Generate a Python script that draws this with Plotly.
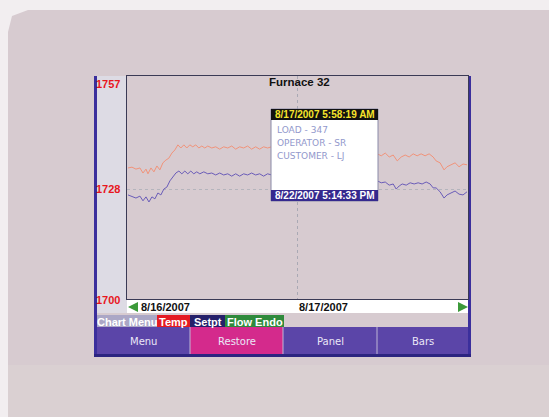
import plotly.graph_objects as go
import pandas as pd

W, H = 549, 417

# ---------------- data ----------------
title_text = "Furnace 32"

temp_hours = [0.14, 0.70, 1.26, 1.82, 2.25, 2.67, 2.95, 3.37, 3.79, 4.21, 4.63, 5.05, 5.47, 5.89,
              6.32, 6.74, 7.16, 7.58, 8.00, 8.42, 8.84, 9.26, 9.68, 10.11, 10.53, 10.95, 11.37,
              11.93, 12.49, 13.05, 13.61, 14.18, 14.74, 15.30, 15.86, 16.42, 16.98, 17.54, 18.11,
              18.67, 19.23, 19.79, 20.35,
              35.23, 35.79, 36.35, 36.91, 37.47, 38.04, 38.60, 39.16, 39.72, 40.28, 40.84, 41.40,
              41.96, 42.53, 43.09, 43.51, 44.07, 44.63, 45.05, 45.61, 46.18, 46.74, 47.30, 47.86]
temp_values = [1733.5, 1733.7, 1733.2, 1733.5, 1732.2, 1733.2, 1732.0, 1733.5, 1732.5, 1734.0,
               1733.0, 1734.8, 1735.5, 1736.0, 1737.3, 1738.1, 1739.4, 1738.6, 1739.4, 1738.6,
               1739.4, 1738.9, 1739.4, 1738.6, 1739.1, 1738.6, 1739.1, 1738.6, 1738.9, 1738.3,
               1738.9, 1738.6, 1739.1, 1738.3, 1738.9, 1738.6, 1739.1, 1738.3, 1738.9, 1738.3,
               1738.9, 1738.6, 1738.9,
               1737.1, 1736.6, 1737.3, 1736.3, 1736.8, 1735.3, 1736.3, 1736.8, 1736.3, 1737.1,
               1736.6, 1737.1, 1736.6, 1737.1, 1736.3, 1735.3, 1734.8, 1733.0, 1733.8, 1734.3,
               1734.8, 1733.8, 1734.5, 1734.3]

setpt_hours = [0.14, 0.70, 1.26, 1.82, 2.25, 2.67, 3.09, 3.51, 3.93, 4.35, 4.77, 5.19, 5.61, 6.04,
               6.46, 6.88, 7.30, 7.72, 8.14, 8.56, 8.98, 9.40, 9.82, 10.25, 10.81, 11.37, 11.93,
               12.49, 13.05, 13.61, 14.18, 14.74, 15.30, 15.86, 16.42, 16.98, 17.54, 18.11, 18.67,
               19.23, 19.79, 20.35,
               35.23, 35.79, 36.35, 36.91, 37.47, 37.89, 38.32, 38.74, 39.30, 39.86, 40.42, 40.98,
               41.54, 42.11, 42.67, 43.09, 43.51, 44.07, 44.63, 45.05, 45.61, 46.18, 46.74, 47.30,
               47.86]
setpt_values = [1726.6, 1726.3, 1725.8, 1726.3, 1725.1, 1726.1, 1724.8, 1726.1, 1725.6, 1727.1,
                1726.6, 1728.1, 1728.6, 1730.2, 1731.2, 1732.2, 1732.7, 1732.0, 1732.7, 1732.0,
                1732.7, 1732.0, 1732.5, 1732.0, 1732.5, 1732.0, 1732.2, 1731.7, 1732.2, 1731.7,
                1732.0, 1731.4, 1732.0, 1731.4, 1732.0, 1731.7, 1732.2, 1731.7, 1732.0, 1731.4,
                1732.0, 1731.7,
                1730.2, 1729.7, 1729.9, 1729.1, 1729.4, 1728.1, 1728.9, 1729.4, 1729.1, 1729.7,
                1729.4, 1729.7, 1729.4, 1729.9, 1729.4, 1728.4, 1728.4, 1727.4, 1725.8, 1726.6,
                1727.1, 1727.6, 1726.8, 1726.6, 1727.4]

y_range = [1700, 1757]
y_tick_values = [1757, 1728, 1700]
y_tick_labels = ["1757", "1728", "1700"]

x_start = "2007-08-16"
x_end = "2007-08-18"
date_ticks = ["2007-08-16", "2007-08-17"]
date_labels = ["8/16/2007", "8/17/2007"]

legend_items = ["Chart Menu", "Temp", "Setpt", "Flow Endo"]
button_labels = ["Menu", "Restore", "Panel", "Bars"]

note_start = "8/17/2007 5:58:19 AM"
note_end = "8/22/2007 5:14:33 PM"
note_lines = ["LOAD - 347", "OPERATOR - SR", "CUSTOMER - LJ"]

# ---------------- helpers (pixel -> paper) ----------------
def fx(p):
    return p / W

def fy(p):
    return 1 - p / H

shapes = []
annotations = []

def rect(x0, y0, x1, y1, fill, line_color=None, line_width=0, layer="below"):
    shapes.append(dict(type="rect", xref="paper", yref="paper",
                       x0=fx(x0), x1=fx(x1), y0=fy(y1), y1=fy(y0),
                       fillcolor=fill, layer=layer,
                       line=dict(color=line_color or fill, width=line_width)))

def path(points, fill, layer="below"):
    d = "M " + " L ".join(f"{fx(a):.5f},{fy(b):.5f}" for a, b in points) + " Z"
    shapes.append(dict(type="path", xref="paper", yref="paper", path=d,
                       fillcolor=fill, line=dict(width=0), layer=layer))

def text(x, y, s, color, size, bold=False, xanchor="center", family="Liberation Sans, Arial"):
    annotations.append(dict(xref="paper", yref="paper", x=fx(x), y=fy(y), text=f"<b>{s}</b>" if bold else s,
                            showarrow=False, xanchor=xanchor, yanchor="middle",
                            font=dict(color=color, size=size, family=family)))

# ---------------- bezel ----------------
path([(8, 32), (12, 16), (28, 10), (549, 10), (549, 417), (8, 417)], "#d7cbd0")
rect(8, 365, 549, 417, "#dad0d2")

# ---------------- screen frame ----------------
rect(94, 76, 97, 357, "#3b2f9c")
rect(468, 76, 471, 357, "#3b2f9c")
rect(97, 76, 127, 313, "#dddbe4")
rect(127, 300, 468, 313, "#ffffff")

# green scroll triangles
path([(128, 307), (138, 302), (138, 312)], "#3c9a3a")
path([(468, 307), (458, 302), (458, 312)], "#3c9a3a")

# legend row
legend_cells = [(97, 157, "#aba7c6"), (157, 190, "#e41b23"), (190, 225, "#25206a"), (225, 284, "#2f8a3c")]
for (x0, x1, c), lab in zip(legend_cells, legend_items):
    rect(x0, 315, x1, 327, c)
    text((x0 + x1) / 2, 321.5, lab, "#ffffff", 11, bold=True)

# button row
button_cells = [(97, 190, "#5b45a8"), (190, 283, "#d42a8c"), (283, 377, "#5b45a8"), (377, 468, "#5b45a8")]
for (x0, x1, c), lab in zip(button_cells, button_labels):
    rect(x0, 327, x1, 354, c)
    text((x0 + x1) / 2, 341, lab, "#ebe7f7", 10, family="DejaVu Sans, Verdana")
for xs in (190, 283, 377):
    rect(xs - 0.5, 327, xs + 0.5, 354, "#bdb5d6")
rect(94, 354, 471, 357, "#2c2480")

# y labels (placed at axis values, clamped at the edges like the display does)
y_anchor = {1757: "top", 1728: "middle", 1700: "middle"}
for v, lab in zip(y_tick_values, y_tick_labels):
    annotations.append(dict(xref="paper", yref="y", x=fx(122), y=v, text=f"<b>{lab}</b>",
                            showarrow=False, xanchor="right", yanchor=y_anchor[v],
                            yshift=(0 if v != 1700 else -1),
                            font=dict(color="#e8161e", size=11, family="Liberation Sans, Arial")))

# date labels
for i, (d, lab) in enumerate(zip(date_ticks, date_labels)):
    annotations.append(dict(xref="x", yref="paper", x=d, y=fy(307), text=f"<b>{lab}</b>",
                            showarrow=False, xanchor="left", yanchor="middle",
                            xshift=(12 if i == 0 else -1),
                            font=dict(color="#111111", size=11, family="Liberation Sans, Arial")))

# title
text(299, 81.5, title_text, "#111111", 11.5, bold=True)

# note box (drawn above the traces)
rect(271, 109, 378, 201, "#ffffff", line_color="#8a8aa8", line_width=1, layer="above")
rect(271, 109, 378, 120, "#111111", layer="above")
rect(271, 190, 378, 201, "#35298e", layer="above")
text(324.5, 114.5, note_start, "#f6e52c", 10, bold=True)
text(324.5, 195.5, note_end, "#ffffff", 10, bold=True)
for yy, s in zip((130, 143, 156), note_lines):
    text(275, yy, s, "#9298cc", 9, xanchor="left", family="DejaVu Sans, Verdana")

# ---------------- traces ----------------
base = pd.Timestamp(x_start)
temp_x = base + pd.to_timedelta(temp_hours, unit="h")
setpt_x = base + pd.to_timedelta(setpt_hours, unit="h")

fig = go.Figure()
fig.add_trace(go.Scatter(x=temp_x, y=temp_values, mode="lines", name="Temp",
                         line=dict(color="#f1937a", width=1), hoverinfo="skip"))
fig.add_trace(go.Scatter(x=setpt_x, y=setpt_values, mode="lines", name="Setpt",
                         line=dict(color="#6a5cb8", width=1), hoverinfo="skip"))

fig.update_layout(
    width=W, height=H,
    margin=dict(l=0, r=0, t=0, b=0),
    paper_bgcolor="#f2eef0",
    plot_bgcolor="#ffffff",
    showlegend=False,
    shapes=shapes,
    annotations=annotations,
    xaxis=dict(domain=[fx(127), fx(468)], type="date", range=[x_start, x_end],
               tickvals=date_ticks, showticklabels=False, ticks="",
               showgrid=True, gridcolor="#a9a9b4", griddash="dot", gridwidth=1,
               showline=True, linecolor="#3a3a55", linewidth=1, mirror=True, zeroline=False),
    yaxis=dict(domain=[fy(299), fy(76)], range=y_range,
               tickvals=[1728], showticklabels=False, ticks="",
               showgrid=True, gridcolor="#b4b4bc", griddash="dot", gridwidth=1,
               showline=True, linecolor="#3a3a55", linewidth=1, mirror=True, zeroline=False),
)

fig.write_html("out.html", config={"displayModeBar": False},
               post_script="document.body.style.margin='0';document.body.style.overflow='hidden';")
